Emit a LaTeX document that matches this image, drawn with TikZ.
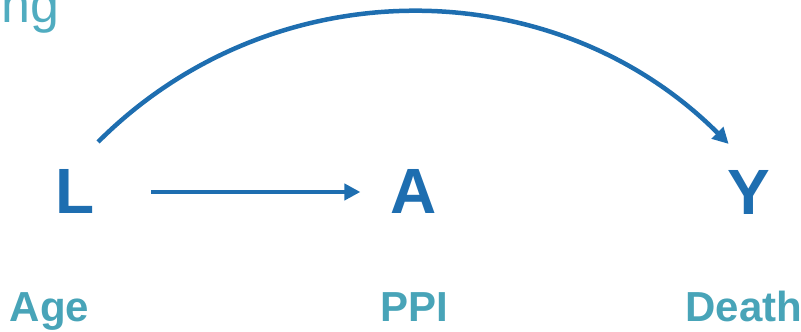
\documentclass[tikz,border=0pt]{standalone}
\usepackage{fontspec}
\setmainfont{Liberation Sans}
\usetikzlibrary{arrows.meta}
\definecolor{dagblue}{RGB}{30,110,176}
\definecolor{labteal}{RGB}{72,164,184}
\definecolor{titteal}{RGB}{80,172,192}
\begin{document}
\begin{tikzpicture}[x=1pt,y=1pt,
  var/.style={inner sep=0pt, outer sep=0pt, anchor=base, text=dagblue, font=\fontsize{64}{64}\selectfont\bfseries},
  lab/.style={inner sep=0pt, outer sep=0pt, anchor=base, text=labteal, font=\fontsize{42}{42}\selectfont\bfseries},
  arr/.style={draw=dagblue, line width=4.5pt, -{Triangle[length=16pt,width=16pt]}}]
\useasboundingbox (0,0) rectangle (801,332);
\node[var] (L) at (75.5,118) {L};
\node[var] (A) at (413.5,118) {A};
\node[var] (Y) at (749,117) {Y};
\node[lab] (age) at (49.5,10) {Age};
\node[lab] (ppi) at (414.5,10) {PPI};
\node[lab] (death) at (744,10) {Death};
\node[inner sep=0pt, anchor=base east, text=titteal, font=\fontsize{52}{52}\selectfont] (title) at (60,309) {ng};
\draw[arr, shorten <=56pt, shorten >=30pt] (L) -- (A);
\coordinate (cs) at ([shift={(3,28)}]L.north east);
\coordinate (ce) at ([shift={(1,27)}]Y.north west);
\draw[arr] (cs) to[out=45,in=135] (ce);
\end{tikzpicture}
\end{document}
